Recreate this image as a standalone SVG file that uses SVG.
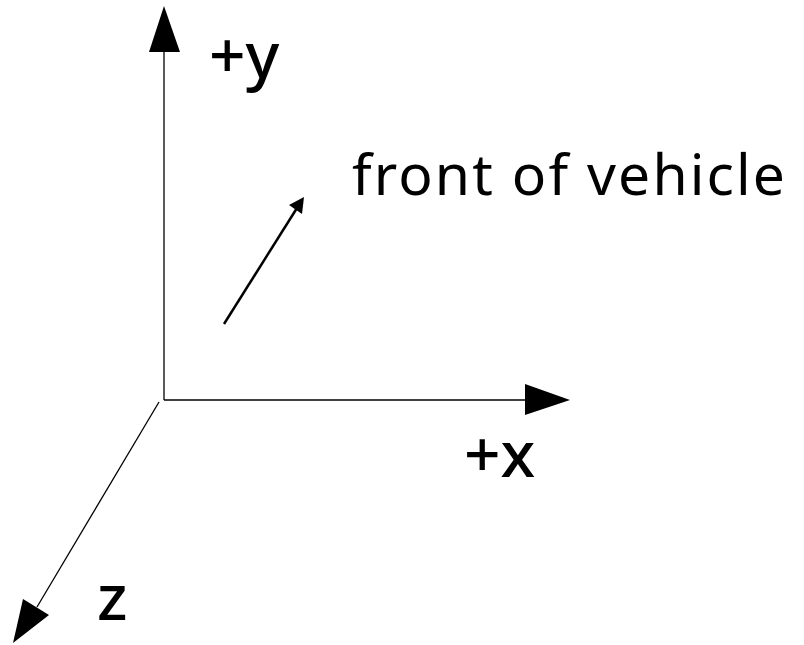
<svg xmlns="http://www.w3.org/2000/svg" width="804" height="645" viewBox="0 0 804 645">
<style>
.axis{stroke:#000;stroke-width:1.3;fill:none}
.head{fill:#000;stroke:none}
.lbl{font-family:"Noto Sans","Open Sans","Liberation Sans",sans-serif;fill:#000}
.ax{font-size:64px;font-weight:500}
</style>
<rect width="804" height="645" fill="#fff"/>
<g id="connectors">
<line class="axis" x1="164" y1="400" x2="164" y2="50"/>
<polygon class="head" points="164,6 149,52 180,52"/>
<line class="axis" x1="164" y1="400" x2="527" y2="400"/>
<polygon class="head" points="570,400 525,384 525,415"/>
<line class="axis" x1="159" y1="402" x2="37" y2="607"/>
<polygon class="head" points="13,643 23,599 49,615"/>
<line x1="224" y1="324" x2="297" y2="208" stroke="#000" stroke-width="2.5"/>
<polygon class="head" points="304,197 289,205 302,214"/>
</g>
<g id="label-y"><text class="lbl ax" x="209" y="78">+y</text></g>
<g id="label-x"><text class="lbl ax" x="464" y="477">+x</text></g>
<g id="label-z"><text class="lbl ax" x="97" y="620">z</text></g>
<g id="label-front"><text class="lbl" x="352" y="195" font-size="57" textLength="433" lengthAdjust="spacing">front of vehicle</text></g>
</svg>
